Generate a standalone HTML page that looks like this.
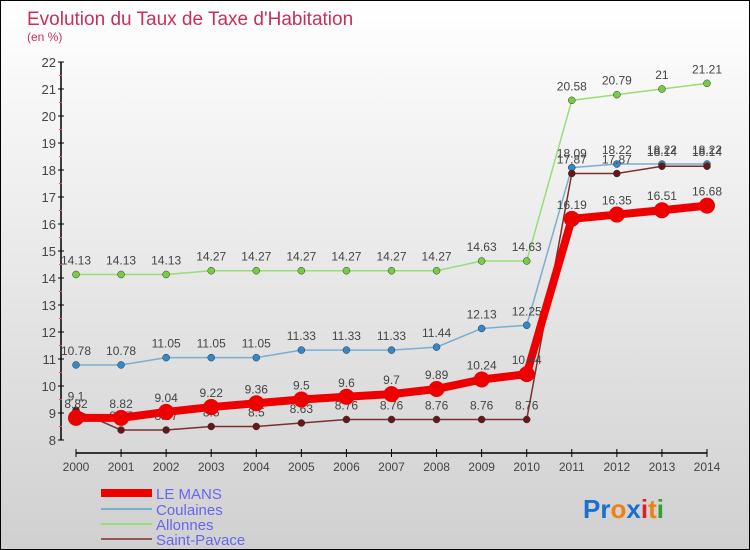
<!DOCTYPE html>
<html><head><meta charset="utf-8"><style>
body{margin:0}
#c{position:relative;width:748px;height:548px;border:1px solid #000;background:linear-gradient(#fff,#d0d0d0);font-family:"Liberation Sans",sans-serif;overflow:hidden}
svg text{font-family:"Liberation Sans",sans-serif}
</style></head><body>
<div id="c">
<svg id="s" width="748" height="548">
<text x="26" y="24" font-size="19" fill="#c8305a">Evolution du Taux de Taxe d'Habitation</text>
<text x="26" y="40" font-size="12" fill="#c8305a">(en %)</text>
<g id="axes"></g><g id="series"></g>
<g>
<line x1="100" y1="492" x2="151" y2="492" stroke="#e00" stroke-width="8"/>
<text x="155" y="498" font-size="15" fill="#6666ee">LE MANS</text>
<line x1="100" y1="508" x2="151" y2="508" stroke="#7aaed0" stroke-width="2"/>
<text x="155" y="514" font-size="15" fill="#6666ee">Coulaines</text>
<line x1="100" y1="523" x2="151" y2="523" stroke="#99dd77" stroke-width="2"/>
<text x="155" y="529" font-size="15" fill="#6666ee">Allonnes</text>
<line x1="100" y1="538" x2="151" y2="538" stroke="#995555" stroke-width="2"/>
<text x="155" y="544" font-size="15" fill="#6666ee">Saint-Pavace</text>
</g>
<text x="582" y="517" font-size="26" font-weight="bold"><tspan fill="#1a6fd0">Pr</tspan><tspan fill="#f08010">o</tspan><tspan fill="#1a6fd0">x</tspan><tspan fill="#e02020">i</tspan><tspan fill="#f08010">t</tspan><tspan fill="#30a030">i</tspan></text>
</svg></div>
<script>
const years=[2000,2001,2002,2003,2004,2005,2006,2007,2008,2009,2010,2011,2012,2013,2014];
const yTicks=[8,9,10,11,12,13,14,15,16,17,18,19,20,21,22];
const leMans=[8.82,8.82,9.04,9.22,9.36,9.5,9.6,9.7,9.89,10.24,10.44,16.19,16.35,16.51,16.68];
const coulaines=[10.78,10.78,11.05,11.05,11.05,11.33,11.33,11.33,11.44,12.13,12.25,18.09,18.22,18.22,18.22];
const allonnes=[14.13,14.13,14.13,14.27,14.27,14.27,14.27,14.27,14.27,14.63,14.63,20.58,20.79,21,21.21];
const saintPavace=[9.1,8.37,8.37,8.5,8.5,8.63,8.76,8.76,8.76,8.76,8.76,17.87,17.87,18.14,18.14];
const NS="http://www.w3.org/2000/svg";
const X=i=>75+i*(706-75)/(years.length-1);
const Y=v=>439-(v-8)*27;
function mk(t,a,p){const e=document.createElementNS(NS,t);for(const k in a)e.setAttribute(k,a[k]);p.appendChild(e);return e;}
const ax=document.getElementById('axes');
let e=mk('line',{x1:60,y1:Y(22),x2:60,y2:Y(8),stroke:'#000','stroke-width':1.5},ax);


e=mk('line',{x1:X(0),y1:452,x2:X(14),y2:452,stroke:'#000','stroke-width':1.5},ax);


yTicks.forEach(v=>{
 mk('line',{x1:57,y1:Y(v),x2:63,y2:Y(v),stroke:'#000'},ax);
 if(v<22)mk('line',{x1:58,y1:Y(v+0.5),x2:61,y2:Y(v+0.5),stroke:'#f44'},ax);
 const t=mk('text',{x:55,y:Y(v)+5,'font-size':13,fill:'#444','text-anchor':'end'},ax);t.textContent=v;
 
 
});
years.forEach((y,i)=>{
 mk('line',{x1:X(i),y1:448,x2:X(i),y2:456,stroke:'#000'},ax);
 const t=mk('text',{x:X(i),y:470,'font-size':12,fill:'#444','text-anchor':'middle'},ax);t.textContent=y;
 
 
});
const sg=document.getElementById('series');
function draw(vals,name,col,dot,w,r){
 const g=mk('g',{},sg);
 
 
 mk('polyline',{points:vals.map((v,i)=>X(i)+','+Y(v)).join(' '),fill:'none',stroke:col,'stroke-width':w,'stroke-linejoin':'round'},g);
 vals.forEach((v,i)=>{
  const c=mk('circle',{cx:X(i),cy:Y(v),r:r,fill:dot,stroke:w>3?'none':'#333','stroke-width':0.5},g);
  
  
  const t=mk('text',{x:X(i),y:Y(v)-10,'font-size':12,fill:'#444','text-anchor':'middle'},g);t.textContent=v;
  
  
 });
}
draw(allonnes,'allonnes','#99dd77','#77cc44',1.5,3.5);
draw(coulaines,'coulaines','#7aaed0','#3388cc',1.5,3.5);
draw(saintPavace,'saint-pavace','#7a3030','#661818',1.5,3.5);
draw(leMans,'le-mans','#ee0000','#ee0000',8,8);
</script>
</body></html>
